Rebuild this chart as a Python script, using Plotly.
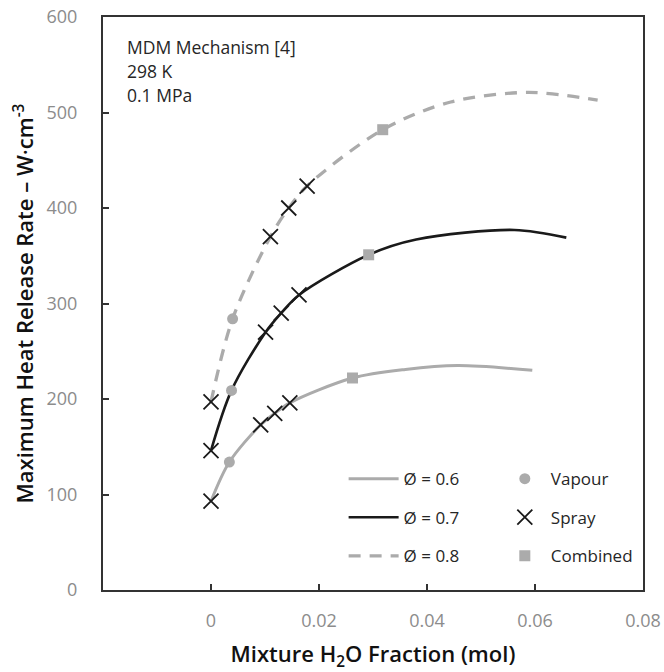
import plotly.graph_objects as go

# ---- data ----
# Curves (model predictions) for each equivalence ratio
phi06_x = [0.0, 0.0034, 0.0092, 0.0118, 0.0146, 0.0262, 0.036, 0.0457, 0.0595]
phi06_y = [93, 134, 173, 185, 196, 222, 231, 235, 230]
phi07_x = [0.0, 0.0038, 0.0101, 0.0130, 0.0163, 0.0292, 0.038, 0.0562, 0.0658]
phi07_y = [146, 209, 270, 290, 309, 351, 367, 377, 369]
phi08_x = [0.0, 0.0040, 0.0110, 0.0144, 0.0178, 0.0318, 0.0444, 0.0587, 0.0716]
phi08_y = [197, 284, 370, 400, 423, 482, 511, 521, 513]

vapour_x = [0.0034, 0.0038, 0.0040]
vapour_y = [134, 209, 284]
spray_x = [0.0, 0.0092, 0.0118, 0.0146, 0.0, 0.0101, 0.0130, 0.0163, 0.0, 0.0110, 0.0144, 0.0178]
spray_y = [93, 173, 185, 196, 146, 270, 290, 309, 197, 370, 400, 423]
combined_x = [0.0262, 0.0292, 0.0318]
combined_y = [222, 351, 482]

x_tickvals = [0, 0.02, 0.04, 0.06, 0.08]
x_ticktext = ["0", "0.02", "0.04", "0.06", "0.08"]
y_tickvals = [0, 100, 200, 300, 400, 500, 600]

GRAY = "#ababab"
BLACK = "#1a1a1a"
FONT = "Open Sans"

fig = go.Figure()

fig.add_trace(go.Scatter(x=phi06_x, y=phi06_y, mode="lines", name="Ø = 0.6",
                         line=dict(color=GRAY, width=3, shape="spline", smoothing=0.9),
                         legend="legend", legendgroup="a"))
fig.add_trace(go.Scatter(x=phi07_x, y=phi07_y, mode="lines", name="Ø = 0.7",
                         line=dict(color=BLACK, width=2.6, shape="spline", smoothing=0.9),
                         legend="legend", legendgroup="b"))
fig.add_trace(go.Scatter(x=phi08_x, y=phi08_y, mode="lines", name="Ø = 0.8",
                         line=dict(color=GRAY, width=3.3, shape="spline", smoothing=0.9, dash="12px,9px"),
                         legend="legend", legendgroup="c"))

fig.add_trace(go.Scatter(x=vapour_x, y=vapour_y, mode="markers", name="Vapour",
                         marker=dict(symbol="circle", size=11, color=GRAY),
                         legend="legend2", legendgroup="d"))
fig.add_trace(go.Scatter(x=spray_x, y=spray_y, mode="markers", name="Spray",
                         marker=dict(symbol="x-thin", size=15, color=BLACK,
                                     line=dict(color=BLACK, width=1.8)),
                         legend="legend2", legendgroup="e"))
fig.add_trace(go.Scatter(x=combined_x, y=combined_y, mode="markers", name="Combined",
                         marker=dict(symbol="square", size=11, color=GRAY),
                         legend="legend2", legendgroup="f"))

axis_line = dict(showline=True, linecolor="#333333", linewidth=2, mirror=True,
                 ticks="inside", ticklen=6, tickwidth=2, tickcolor="#333333",
                 showgrid=False, zeroline=False, automargin=False,
                 tickfont=dict(family=FONT, size=18, color="#8c8c8c"))

fig.update_layout(
    width=664, height=672,
    margin=dict(l=103, r=21, t=17, b=82),
    plot_bgcolor="white", paper_bgcolor="white",
    font=dict(family=FONT),
    xaxis=dict(range=[-0.02, 0.08], tickvals=x_tickvals, ticktext=x_ticktext,
               ticklabelstandoff=13,
               title=dict(text="Mixture H<sub>2</sub>O Fraction (mol)", standoff=22,
                          font=dict(family=FONT, size=22, color="#111111", weight=600)),
               **axis_line),
    yaxis=dict(range=[0, 600], tickvals=y_tickvals,
               ticklabelstandoff=20,
               title=dict(text="Maximum Heat Release Rate – W·cm<sup>-3</sup>", standoff=7,
                          font=dict(family=FONT, size=22, color="#111111", weight=600)),
               **axis_line),
    legend=dict(x=0.4456, y=0.225, xanchor="left", yanchor="top",
                bgcolor="rgba(0,0,0,0)", itemwidth=50, tracegroupgap=13.5,
                font=dict(family=FONT, size=17, color="#262626")),
    legend2=dict(x=0.733, y=0.225, xanchor="left", yanchor="top",
                 bgcolor="rgba(0,0,0,0)", itemwidth=42, tracegroupgap=13.5,
                 font=dict(family=FONT, size=17, color="#262626")),
    showlegend=True,
)

notes = ["MDM Mechanism [4]", "298 K", "0.1 MPa"]
for i, t in enumerate(notes):
    fig.add_annotation(text=t, xref="paper", yref="paper",
                       x=(125 - 103) / 540, y=(590 - (47 + 24 * i)) / 573,
                       xanchor="left", yanchor="middle", showarrow=False,
                       font=dict(family=FONT, size=17.5, color="#262626"))

fig.write_html("out.html")
